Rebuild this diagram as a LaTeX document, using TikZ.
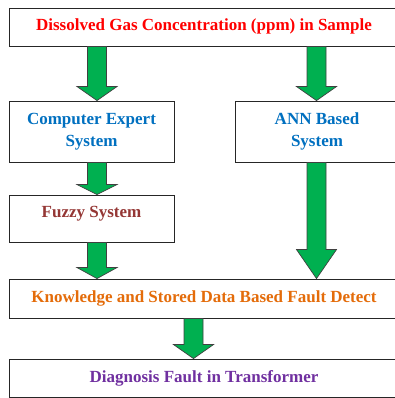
\documentclass[tikz,border=0pt]{standalone}
\usepackage{fontspec}
\setmainfont{Liberation Serif}
\usetikzlibrary{calc}
\definecolor{cred}{HTML}{FF0000}
\definecolor{cblue}{HTML}{0070C0}
\definecolor{cbrown}{HTML}{953735}
\definecolor{corange}{HTML}{E46C0A}
\definecolor{cpurple}{HTML}{7030A0}
\definecolor{cgreen}{HTML}{00B050}
\newcommand\fatarrow[4]{% #1 from, #2 to, #3 centre x, #4 head length
  \draw[fatarr]
    (#3-9.5,0 |- #1.south)
    -- ($(#3-9.5,0 |- #2.north)+(0,-#4)$)
    -- ($(#3-20,0 |- #2.north)+(0,-#4)$)
    -- (#3,0 |- #2.north)
    -- ($(#3+20,0 |- #2.north)+(0,-#4)$)
    -- ($(#3+9.5,0 |- #2.north)+(0,-#4)$)
    -- (#3+9.5,0 |- #1.south) -- cycle;}
\begin{document}
\begin{tikzpicture}[x=1pt,y=-1pt,
  box/.style={draw=black!85, line width=0.9pt, fill=white, inner sep=0pt,
    font=\fontsize{17}{22}\selectfont\bfseries, align=center},
  onel/.style={text height=12pt, text depth=4pt},
  fatarr/.style={fill=cgreen, draw=black!75, line width=0.7pt, line join=miter}]
\useasboundingbox (0,0) rectangle (394,398);
\node[box,onel,text=cred, minimum width=390pt, minimum height=38pt] (top) at (204,27)
  {Dissolved Gas Concentration (ppm) in Sample};
\node[box,text=cblue, minimum width=165pt, minimum height=61pt] (ces) at (91.5,131.5)
  {Computer Expert\\System};
\node[box,text=cblue, minimum width=164pt, minimum height=61pt] (ann) at (317,131.5)
  {ANN Based\\System};
\node[box,text=cbrown, text height=12pt, text depth=15pt, minimum width=165pt, minimum height=47pt] (fuzzy) at (91.5,218.5)
  {Fuzzy System};
\node[box,onel,text=corange, minimum width=390pt, minimum height=39pt] (know) at (204,298.5)
  {Knowledge and Stored Data Based Fault Detect};
\node[box,onel,text=cpurple, minimum width=390pt, minimum height=38pt] (diag) at (204,378)
  {Diagnosis Fault in Transformer};
\fatarrow{top}{ces}{97}{14}
\fatarrow{top}{ann}{316.5}{14}
\fatarrow{ces}{fuzzy}{97}{10}
\fatarrow{fuzzy}{know}{97}{11}
\fatarrow{ann}{know}{316.5}{29}
\fatarrow{know}{diag}{193.5}{14}
\end{tikzpicture}
\end{document}
